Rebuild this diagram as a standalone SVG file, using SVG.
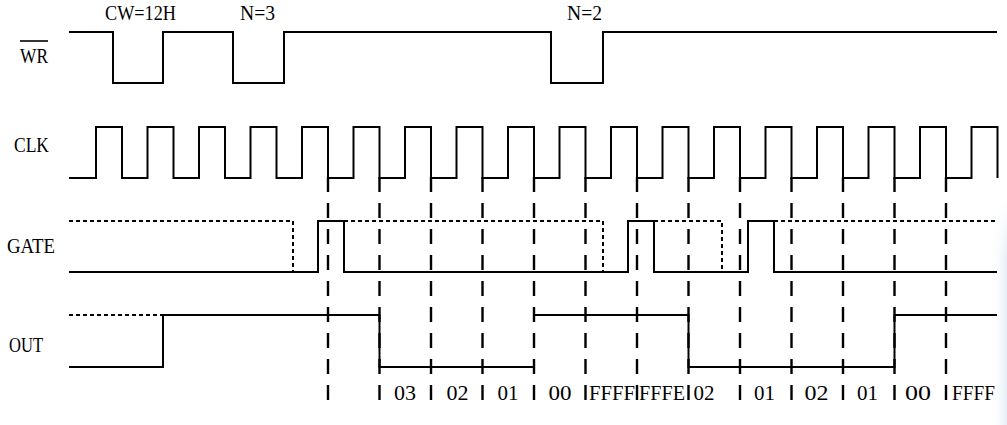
<svg xmlns="http://www.w3.org/2000/svg" width="1007" height="425" viewBox="0 0 1007 425">
<defs>
<linearGradient id="edge" x1="0" y1="0" x2="1" y2="0">
<stop offset="0" stop-color="#ffffff" stop-opacity="0"/>
<stop offset="1" stop-color="#e6edf7"/>
</linearGradient>
<linearGradient id="fadeV" x1="0" y1="0" x2="0" y2="1">
<stop offset="0" stop-color="#fff" stop-opacity="1"/>
<stop offset="1" stop-color="#fff" stop-opacity="0"/>
</linearGradient>
<style>
.w{fill:none;stroke:#000;stroke-width:2;stroke-linejoin:miter;stroke-linecap:butt}
.d{fill:none;stroke:#000;stroke-width:2;stroke-dasharray:4 3}
.g{fill:none;stroke:#000;stroke-width:2.4;stroke-dasharray:15 11}
text{font-family:'Liberation Serif','DejaVu Serif',serif;font-size:22px;fill:#000}
text.s{font-size:20px}
text.m{text-anchor:middle}
</style>
</defs>
<rect width="1007" height="425" fill="#fff"/>
<rect x="990" y="200" width="17" height="225" fill="url(#edge)"/>
<rect x="990" y="200" width="17" height="60" fill="url(#fadeV)"/>

<g id="labels">
<text x="20" y="63" textLength="28" lengthAdjust="spacingAndGlyphs">WR</text>
<line x1="20" y1="41" x2="48" y2="41" stroke="#000" stroke-width="1.6"/>
<text x="14" y="152" textLength="35" lengthAdjust="spacingAndGlyphs">CLK</text>
<text x="7" y="253" textLength="48" lengthAdjust="spacingAndGlyphs">GATE</text>
<text x="9" y="352" textLength="34" lengthAdjust="spacingAndGlyphs">OUT</text>
<text class="s" x="105" y="20" textLength="71" lengthAdjust="spacingAndGlyphs">CW=12H</text>
<text class="s" x="240" y="20" textLength="35" lengthAdjust="spacingAndGlyphs">N=3</text>
<text class="s" x="567" y="20" textLength="35" lengthAdjust="spacingAndGlyphs">N=2</text>
</g>

<g id="counts">
<text class="m" x="405" y="400" textLength="22" lengthAdjust="spacingAndGlyphs">03</text>
<text class="m" x="457.5" y="400" textLength="22" lengthAdjust="spacingAndGlyphs">02</text>
<text class="m" x="508" y="400" textLength="21" lengthAdjust="spacingAndGlyphs">01</text>
<text class="m" x="560" y="400" textLength="23" lengthAdjust="spacingAndGlyphs">00</text>
<text class="m" x="612" y="400" textLength="46" lengthAdjust="spacingAndGlyphs">FFFF</text>
<text class="m" x="662" y="400" textLength="46" lengthAdjust="spacingAndGlyphs">FFFE</text>
<text class="m" x="704" y="400" textLength="21" lengthAdjust="spacingAndGlyphs">02</text>
<text class="m" x="764.5" y="400" textLength="21" lengthAdjust="spacingAndGlyphs">01</text>
<text class="m" x="816.5" y="400" textLength="24" lengthAdjust="spacingAndGlyphs">02</text>
<text class="m" x="867.5" y="400" textLength="21" lengthAdjust="spacingAndGlyphs">01</text>
<text class="m" x="918" y="400" textLength="26" lengthAdjust="spacingAndGlyphs">00</text>
<text class="m" x="973.5" y="400" textLength="43" lengthAdjust="spacingAndGlyphs">FFFF</text>
</g>

<g id="wr">
<path class="w" d="M69,32 H113 V83 H163 V32 H233 V83 H284 V32 H551 V83 H603 V32 H997"/>
</g>

<g id="clk">
<path class="w" d="M69,178 H96 V127 H122 V178 H147.5 V127 H173.5 V178 H199 V127 H225 V178 H250.5 V127 H276.5 V178 H302 V127 H328 V178 H353.5 V127 H379.5 V178 H405 V127 H431 V178 H456.5 V127 H482.5 V178 H508 V127 H534 V178 H559.5 V127 H585.5 V178 H611 V127 H637 V178 H662.5 V127 H688.5 V178 H714 V127 H740 V178 H765.5 V127 H791.5 V178 H817 V127 H843 V178 H868.5 V127 H894.5 V178 H920 V127 H946 V178 H971.5 V127 H997.5 V178"/>
</g>

<g id="gate">
<path class="d" d="M69,221 H293 V272 M344,221 H603 V272 M654,221 H722 V272 M774,221 H997"/>
<path class="w" d="M69,272 H318 V221 H344 V272 H628 V221 H654 V272 H748 V221 H774 V272 H997"/>
</g>

<g id="out">
<path class="d" d="M69,315 H163"/>
<path class="w" d="M69,367 H163 V315 H379.5 V367 H534 M534,315 H688.5 V367 H894.5 V315 H997"/>
</g>

<g id="connectors">
<path class="g" d="M328,177 V401 M379.5,177 V401 M431,177 V401 M482.5,177 V401 M534,177 V401 M585.5,177 V401 M637,177 V401 M688.5,177 V401 M740,177 V401 M791.5,177 V401 M843,177 V401 M894.5,177 V401 M946,177 V401"/>
</g>
</svg>
